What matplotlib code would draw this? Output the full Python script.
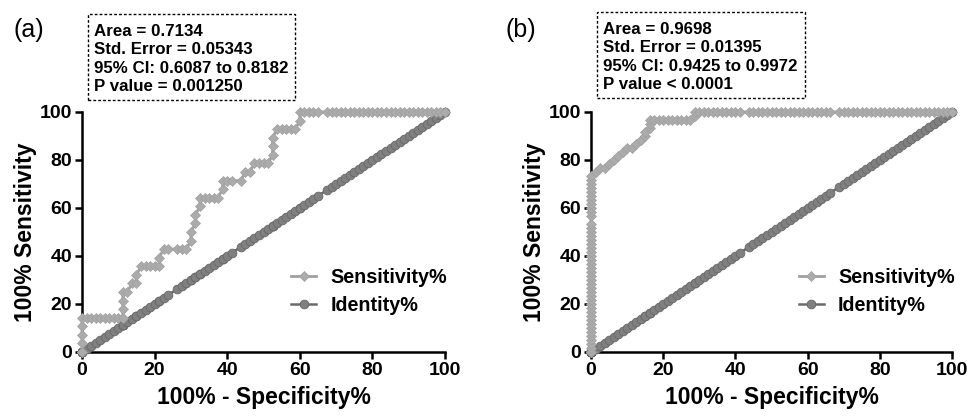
import matplotlib
matplotlib.use("Agg")
import matplotlib.pyplot as plt
from matplotlib.patches import Rectangle

plt.rcParams['font.family'] = ['Liberation Sans', 'DejaVu Sans']

# ---- panel (a): ROC points ----
fpr_a = [0, 0, 0, 0, 0,
         1.25, 2.5, 3.75, 5, 6.25, 7.5, 8.75, 10, 11.25,
         11.25, 11.25, 11.25, 12.5, 13.75, 15, 15, 16.25, 17.5, 18.75, 20, 21.25,
         21.25, 22.5, 23.75, 26.25, 27.5, 28.75, 30, 30, 31.25, 31.25, 32.5, 32.5,
         33.75, 35, 36.25, 37.5, 38.75, 38.75, 40, 41.25, 43.75, 45, 46.25, 47.5,
         48.75, 50, 51.25, 52.5, 52.5, 52.5, 53.75, 55, 56.25, 57.5, 58.75, 60, 60,
         61.25, 62.5, 63.75, 65, 67.5, 68.75, 70, 71.25, 72.5, 73.75, 75, 76.25,
         77.5, 78.75, 80, 81.25, 82.5, 83.75, 85, 86.25, 87.5, 88.75, 90, 91.25,
         92.5, 93.75, 95, 96.25, 97.5, 98.75, 100]
sens_a = [0, 3.6, 7.1, 10.7, 14.3,
          14.3, 14.3, 14.3, 14.3, 14.3, 14.3, 14.3, 14.3, 14.3,
          17.9, 21.4, 25.0, 25.0, 28.6, 28.6, 32.1, 35.7, 35.7, 35.7, 35.7, 35.7,
          39.3, 42.9, 42.9, 42.9, 42.9, 42.9, 46.4, 50.0, 53.6, 57.1, 60.7, 64.3,
          64.3, 64.3, 64.3, 64.3, 67.9, 71.4, 71.4, 71.4, 71.4, 75.0, 75.0, 78.6,
          78.6, 78.6, 78.6, 82.1, 85.7, 89.3, 92.9, 92.9, 92.9, 92.9, 92.9, 96.4, 100,
          100, 100, 100, 100, 100, 100, 100, 100, 100, 100, 100, 100,
          100, 100, 100, 100, 100, 100, 100, 100, 100, 100, 100, 100,
          100, 100, 100, 100, 100, 100, 100]

# ---- panel (b) ----
fpr_b = [0, 0, 0, 0, 0, 0, 0, 0, 0, 0, 0, 0, 0, 0, 0, 0, 0, 0, 0, 0, 0, 0,
         0, 0, 0, 0, 0, 0, 0, 0, 0, 0, 0, 0, 0, 0, 0, 0, 0, 0, 0, 0, 0, 0,
         1.25, 2.5, 3.75, 5, 6.25, 7.5, 8.75, 10, 11.25, 12.5, 13.75, 15, 15,
         16.25, 16.25, 16.25, 17.5, 18.75, 20, 21.25, 22.5, 23.75, 25, 26.25, 27.5,
         28.75, 28.75, 30, 31.25, 32.5, 33.75, 35, 36.25, 37.5, 38.75, 40, 41.25,
         43.75, 45, 46.25, 47.5, 48.75, 50, 51.25, 52.5, 53.75, 55, 56.25, 57.5,
         58.75, 60, 61.25, 62.5, 63.75, 65, 66.25, 68.75, 70, 71.25, 72.5, 73.75,
         75, 76.25, 77.5, 78.75, 80, 81.25, 82.5, 83.75, 85, 86.25, 87.5, 88.75,
         90, 91.25, 92.5, 93.75, 95, 96.25, 97.5, 98.75, 100]
sens_b = [0, 1.7, 3.3, 5.0, 6.7, 8.3, 10.0, 11.7, 13.3, 15.0, 16.7, 18.3, 20.0,
          21.7, 23.3, 25.0, 26.7, 28.3, 30.0, 31.7, 33.3, 35.0, 36.7, 38.3, 40.0,
          41.7, 43.3, 45.0, 46.7, 48.3, 50.0, 51.7, 53.3, 56.7, 58.3, 60.0, 61.7,
          63.3, 65.0, 66.7, 68.3, 70.0, 71.7, 73.3,
          75.0, 76.7, 76.7, 78.3, 80.0, 81.7, 83.3, 85.0, 85.0, 86.7, 88.3, 90.0, 91.7,
          93.3, 95.0, 96.7, 96.7, 96.7, 96.7, 96.7, 96.7, 96.7, 96.7, 96.7, 96.7,
          98.3, 100, 100, 100, 100, 100, 100, 100, 100, 100, 100, 100,
          100, 100, 100, 100, 100, 100, 100, 100, 100, 100, 100, 100,
          100, 100, 100, 100, 100, 100, 100, 100, 100, 100, 100, 100,
          100, 100, 100, 100, 100, 100, 100, 100, 100, 100, 100, 100,
          100, 100, 100, 100, 100, 100, 100, 100, 100]

# identity line uses the same x positions (y = x)
ident_a = fpr_a
ident_b = fpr_b

stats_a = ["Area = 0.7134", "Std. Error = 0.05343",
           "95% CI: 0.6087 to 0.8182", "P value = 0.001250"]
stats_b = ["Area = 0.9698", "Std. Error = 0.01395",
           "95% CI: 0.9425 to 0.9972", "P value < 0.0001"]

ticks = [0, 20, 40, 60, 80, 100]

W, H = 972, 417
fig = plt.figure(figsize=(9.72, 4.17), dpi=100)
ax_a = fig.add_axes([82 / W, 1 - 352 / H, 363 / W, 240 / H])
ax_b = fig.add_axes([591 / W, 1 - 352 / H, 361 / W, 240 / H])

# (axes, data..., tag, tag x, box left, box right, box top, box bottom) in px
panels = [(ax_a, fpr_a, sens_a, ident_a, stats_a, "(a)", 13, 88, 295, 14, 100),
          (ax_b, fpr_b, sens_b, ident_b, stats_b, "(b)", 505, 597, 805, 12, 98)]

for ax, fpr, sens, ident, stats, tag, tag_x, bx0, bx1, by0, by1 in panels:
    ax.plot(fpr, ident, color='#6a6a6a', lw=1.8, marker='o', ms=6.3,
            mfc='#808080', mec='#686868', mew=0.6, clip_on=False,
            label='Identity%', zorder=3)
    ax.plot(fpr, sens, color='#a0a0a0', lw=2.0, marker='D', ms=5.0,
            mfc='#ababab', mec='#a0a0a0', mew=0.5, clip_on=False,
            label='Sensitivity%', zorder=4)
    ax.set_xlim(0, 100)
    ax.set_ylim(0, 100)
    ax.set_xticks(ticks)
    ax.set_yticks(ticks)
    for s in ['top', 'right']:
        ax.spines[s].set_visible(False)
    for s in ['left', 'bottom']:
        ax.spines[s].set_linewidth(1.8)
    ax.tick_params(direction='out', length=5, width=1.8, pad=2,
                   labelsize=14)
    for lb in ax.get_xticklabels() + ax.get_yticklabels():
        lb.set_fontweight('bold')
    ax.set_xlabel('100% - Specificity%', fontsize=16.5, fontweight='bold',
                  labelpad=5)
    ax.set_ylabel('100% Sensitivity', fontsize=16.5, fontweight='bold',
                  labelpad=2)

    h, l = ax.get_legend_handles_labels()
    ax.legend(h[::-1], l[::-1], loc='center left',
              bbox_to_anchor=(0.575, 0.252), frameon=False, borderpad=0,
              borderaxespad=0, handlelength=1.3, handletextpad=0.7,
              labelspacing=0.45, prop={'weight': 'bold', 'size': 14.2})

    fig.text(tag_x / W, 1 - 30 / H, tag, fontsize=18, va='center')

    # dotted stats box
    fig.patches.append(Rectangle((bx0 / W, 1 - by1 / H), (bx1 - bx0) / W,
                                 (by1 - by0) / H, transform=fig.transFigure,
                                 fill=False, ec='black', lw=1.0,
                                 ls=(0, (2, 1.5))))
    fig.text((bx0 + 6) / W, 1 - (by0 + 10) / H, "\n".join(stats),
             fontsize=12.2, fontweight='bold', va='top', ha='left',
             linespacing=1.28)

fig.savefig('out.png', dpi=100)
